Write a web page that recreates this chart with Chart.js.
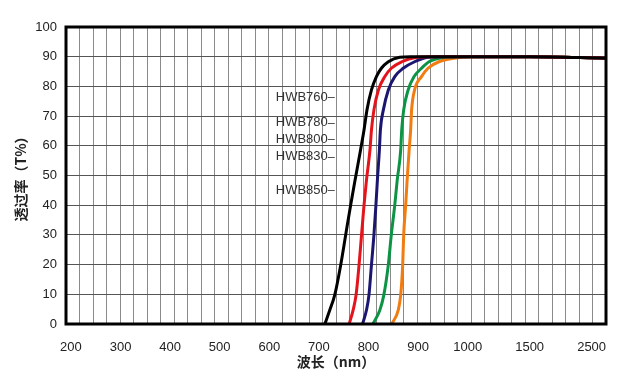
<!DOCTYPE html>
<html>
<head>
<meta charset="utf-8">
<script src="https://cdn.jsdelivr.net/npm/chart.js@4"></script>
<style>
  html, body { margin: 0; padding: 0; background: #fff; }
  #wrap { width: 643px; height: 373px; }
</style>
</head>
<body>
<div id="wrap"><canvas id="graphique"></canvas></div>
<script>
// axe des x : 200-1000 tous les 100, puis 1500 et 2500 (échelle compressée)
const waveTicks = [200, 300, 400, 500, 600, 700, 800, 900, 1000, 1500, 2500];
const tickSlots = [0, 1, 2, 3, 4, 5, 6, 7, 8, 9.25, 10.5];
const yTicks = [0, 10, 20, 30, 40, 50, 60, 70, 80, 90, 100];

const filtres = ['HWB760', 'HWB780', 'HWB800', 'HWB830', 'HWB850'];
const couleurs = ['#000000', '#e3141c', '#1b1670', '#0c9444', '#f07c12'];

// transmission (%) commune aux lectures
const transVal = [0, 4.7, 9.8, 19.9, 30, 40, 48.5, 58.6, 65.3, 72.1, 78.8, 83.3, 86.1, 88.3, 89.8, 90, 90, 89.5];

const hwb760Wave = [712, 722, 732, 744, 754, 764, 773, 784, 791, 797, 806, 816, 826, 840, 863, 885, 1500, 2730];
const hwb780Wave = [761, 769, 775, 781, 786, 791, 796, 803, 806, 811, 820, 833, 846, 867, 897, 920, 1500, 2730];
const hwb800Wave = [788, 796, 801, 806, 811, 815, 818, 822, 824, 830, 840, 853, 870, 893, 920, 945, 1500, 2730];
const hwb830Wave = [809, 823, 831, 840, 846, 853, 858, 865, 867, 871, 880, 892, 907, 922, 955, 985, 1500, 2730];
const hwb850Wave = [847, 860, 865, 869, 871, 875, 878, 882, 885, 887, 893, 907, 920, 942, 990, 1030, 1500, 2730];

// étiquettes : position du texte (nm, %)
const etiquetteWave = 613;
const etiquetteVal = [76.4, 67.8, 62.2, 56.3, 45.1];

// nm -> position sur l'axe (interpolation par morceaux entre les graduations)
function toSlot(w) {
  let i = 0;
  while (i < waveTicks.length - 2 && w > waveTicks[i + 1]) i++;
  const w0 = waveTicks[i], w1 = waveTicks[i + 1];
  const s0 = tickSlots[i], s1 = tickSlots[i + 1];
  return s0 + (w - w0) * (s1 - s0) / (w1 - w0);
}

const series = [hwb760Wave, hwb780Wave, hwb800Wave, hwb830Wave, hwb850Wave];

const datasets = series.map((waves, i) => ({
  label: filtres[i],
  data: waves.map((w, k) => ({ x: toSlot(w), y: transVal[k] })),
  borderColor: couleurs[i],
  borderWidth: 3,
  pointRadius: 0,
  cubicInterpolationMode: 'monotone',
  fill: false
}));

const cadre = {
  id: 'cadre',
  afterDatasetsDraw(chart) {
    const { ctx, chartArea: a, scales } = chart;
    ctx.save();
    // étiquettes des filtres avec petit trait
    ctx.font = '13px "Liberation Sans", Arial, sans-serif';
    ctx.fillStyle = '#333';
    ctx.strokeStyle = '#555';
    ctx.lineWidth = 1;
    ctx.textBaseline = 'middle';
    const x0 = scales.x.getPixelForValue(toSlot(etiquetteWave));
    filtres.forEach((nom, i) => {
      const y = scales.y.getPixelForValue(etiquetteVal[i]);
      ctx.fillText(nom, x0, y);
      const w = ctx.measureText(nom).width;
      ctx.beginPath();
      ctx.moveTo(x0 + w, Math.round(y) + 0.5);
      ctx.lineTo(x0 + w + 7, Math.round(y) + 0.5);
      ctx.stroke();
    });
    // bordure épaisse
    ctx.strokeStyle = '#000';
    ctx.lineWidth = 3;
    ctx.strokeRect(a.left, a.top, a.right - a.left, a.bottom - a.top);
    ctx.restore();
  }
};

const ctx = document.getElementById('graphique').getContext('2d');
window.myChart = new Chart(ctx, {
  type: 'line',
  data: { datasets: datasets },
  plugins: [cadre],
  options: {
    responsive: true,
    maintainAspectRatio: false,
    animation: false,
    layout: { padding: { top: 27, right: 37, bottom: 0, left: 0 } },
    plugins: { legend: { display: false }, tooltip: { enabled: false } },
    scales: {
      x: {
        type: 'linear',
        position: 'bottom',
        min: -0.1,
        max: 10.79,
        grid: { display: false },
        border: { display: false },
        afterBuildTicks: scale => { scale.ticks = tickSlots.map(v => ({ value: v })); },
        afterFit: scale => { scale.height = 49; },
        ticks: {
          autoSkip: false,
          maxRotation: 0,
          padding: 8,
          color: '#222',
          font: { family: '"Liberation Sans", Arial, sans-serif', size: 13 },
          callback: (value, index) => waveTicks[index]
        },
        title: {
          display: true,
          text: '波长（nm）',
          color: '#222',
          font: { family: '"Noto Sans CJK SC", sans-serif', size: 14, weight: 'bold' },
          padding: { top: 0, bottom: 3 }
        }
      },
      xg: {
        type: 'linear',
        position: 'bottom',
        min: 0,
        max: 40,
        ticks: { display: false, stepSize: 1 },
        grid: { color: '#8a8a8a', lineWidth: 1, drawTicks: false },
        border: { display: false },
        afterFit: scale => { scale.height = 0; }
      },
      y: {
        min: 0,
        max: 100,
        afterBuildTicks: scale => { scale.ticks = yTicks.map(v => ({ value: v })); },
        afterFit: scale => { scale.width = 66; },
        grid: { color: '#555', lineWidth: 1, drawTicks: false },
        border: { display: false },
        ticks: {
          padding: 9,
          color: '#222',
          font: { family: '"Liberation Sans", Arial, sans-serif', size: 13 }
        },
        title: {
          display: true,
          text: '透过率（T%）',
          color: '#222',
          font: { family: '"Noto Sans CJK SC", sans-serif', size: 14, weight: 'bold' },
          padding: { top: 12, bottom: 0 }
        }
      }
    }
  }
});
</script>
</body>
</html>
